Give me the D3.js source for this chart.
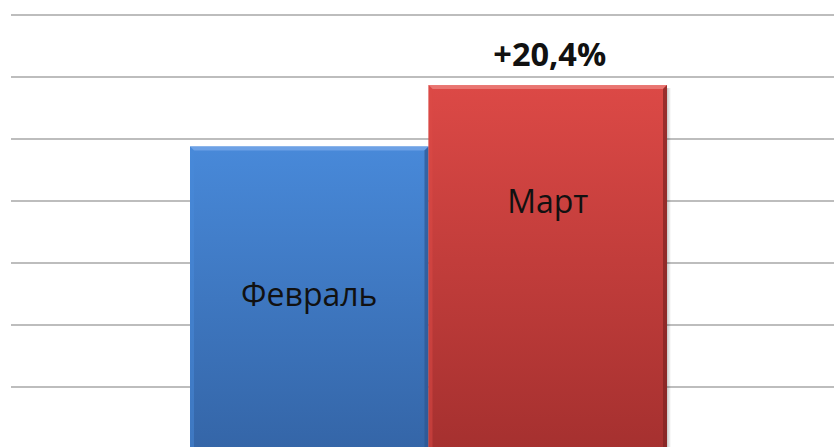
<!DOCTYPE html>
<html>
<head>
<meta charset="utf-8">
<script src="https://cdn.jsdelivr.net/npm/d3@7"></script>
<style>
  html, body { margin: 0; padding: 0; background: #fff; overflow: hidden; }
  svg { display: block; }
</style>
</head>
<body>
<div id="chart"></div>
<script>
// chart data
const months = ["Февраль", "Март"];
const values = [4.88, 5.87];
const gridTicks = [1, 2, 3, 4, 5, 6, 7];
const changeLabel = "+20,4%";

const W = 834, H = 447;
const barColors = [
  { top: "#4889d9", bottom: "#3465a7", light: "#7aaaea", dark: "#2d5690" },
  { top: "#dc4946", bottom: "#a5302f", light: "#ee8480", dark: "#7e2322" }
];

const svg = d3.select("#chart").append("svg")
  .attr("width", W).attr("height", H)
  .attr("viewBox", `0 0 ${W} ${H}`);

const y = d3.scaleLinear().domain([0, 7]).range([449, 15]);
const x = d3.scaleBand().domain(months).range([190, 667]).paddingInner(0);

// gridlines
svg.append("g").selectAll("line")
  .data(gridTicks)
  .join("line")
  .attr("x1", 11).attr("x2", W)
  .attr("y1", d => y(d)).attr("y2", d => y(d))
  .attr("stroke", "#bdbdbd")
  .attr("stroke-width", 2);

// gradients
const defs = svg.append("defs");
barColors.forEach((c, i) => {
  const g = defs.append("linearGradient")
    .attr("id", "grad" + i)
    .attr("x1", 0).attr("y1", 0).attr("x2", 0).attr("y2", 1);
  g.append("stop").attr("offset", "0%").attr("stop-color", c.top);
  g.append("stop").attr("offset", "100%").attr("stop-color", c.bottom);
});
const sh = defs.append("linearGradient").attr("id", "shadow")
  .attr("x1", 0).attr("x2", 1).attr("y1", 0).attr("y2", 0);
sh.append("stop").attr("offset", "0%").attr("stop-color", "#000").attr("stop-opacity", 0.22);
sh.append("stop").attr("offset", "100%").attr("stop-color", "#000").attr("stop-opacity", 0);

const bars = svg.append("g").selectAll("g")
  .data(months.map((m, i) => ({ m, v: values[i], i })))
  .join("g");

// soft shadow on the right
bars.append("rect")
  .attr("x", d => x(d.m) + x.bandwidth())
  .attr("y", d => y(d.v) + 3)
  .attr("width", 4)
  .attr("height", d => H - y(d.v))
  .attr("fill", "url(#shadow)");

bars.append("rect")
  .attr("x", d => x(d.m))
  .attr("y", d => y(d.v))
  .attr("width", x.bandwidth())
  .attr("height", d => H + 5 - y(d.v))
  .attr("fill", d => `url(#grad${d.i})`);

// bevel: top highlight
const bev = 4;
bars.append("path")
  .attr("d", d => {
    const x0 = x(d.m), x1 = x0 + x.bandwidth(), y0 = y(d.v);
    return `M${x0},${y0}L${x1},${y0}L${x1 - bev},${y0 + bev}L${x0 + bev},${y0 + bev}Z`;
  })
  .attr("fill", d => barColors[d.i].light)
  .attr("opacity", 0.75);

// bevel: left edge
bars.append("path")
  .attr("d", d => {
    const x0 = x(d.m), y0 = y(d.v);
    return `M${x0},${y0}L${x0 + bev},${y0 + bev}L${x0 + bev},${H + 5}L${x0},${H + 5}Z`;
  })
  .attr("fill", d => barColors[d.i].top)
  .attr("opacity", 0.5);

// bevel: right dark edge
bars.append("path")
  .attr("d", d => {
    const x1 = x(d.m) + x.bandwidth(), y0 = y(d.v);
    return `M${x1},${y0}L${x1},${H + 5}L${x1 - bev},${H + 5}L${x1 - bev},${y0 + bev}Z`;
  })
  .attr("fill", d => barColors[d.i].dark)
  .attr("opacity", 0.7);

// labels inside bars
const labelDrop = [160, 128];
bars.append("text")
  .attr("x", d => x(d.m) + x.bandwidth() / 2)
  .attr("y", d => y(d.v) + labelDrop[d.i])
  .attr("text-anchor", "middle")
  .attr("font-family", "'Open Sans', 'DejaVu Sans', sans-serif")
  .attr("font-size", 32)
  .attr("fill", "#111")
  .text(d => d.m);

// change label above last bar
svg.append("text")
  .attr("x", x(months[1]) + x.bandwidth() / 2 + 2)
  .attr("y", y(values[1]) - 19)
  .attr("text-anchor", "middle")
  .attr("font-family", "'Open Sans', 'DejaVu Sans', sans-serif")
  .attr("font-weight", "bold")
  .attr("font-size", 32.5)
  .attr("fill", "#111")
  .text(changeLabel);
</script>
</body>
</html>
